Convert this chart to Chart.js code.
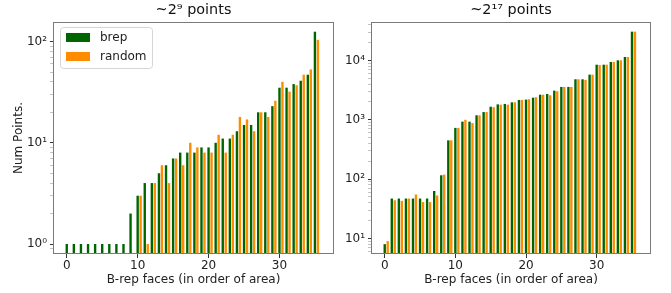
<!DOCTYPE html>
<html>
<head>
<meta charset="utf-8">
<script src="https://cdn.jsdelivr.net/npm/chart.js@4.4.1/dist/chart.umd.min.js"></script>
<style>
  html, body { margin: 0; padding: 0; background: #fff; }
  #wrap { position: relative; width: 671px; height: 293px; }
  #left { position: absolute; left: 0; top: 0; }
  #right { position: absolute; left: 340px; top: 0; }
</style>
</head>
<body>
<div id="wrap">
  <canvas id="left" width="340" height="293"></canvas>
  <canvas id="right" width="331" height="293"></canvas>
</div>
<script>
// faces sorted by area, 0..35
const faces = [0, 1, 2, 3, 4, 5, 6, 7, 8, 9, 10, 11, 12, 13, 14, 15, 16, 17,
  18, 19, 20, 21, 22, 23, 24, 25, 26, 27, 28, 29, 30, 31, 32, 33, 34, 35];

// ~2^9 points
const brepSmall = [1, 1, 1, 1, 1, 1, 1, 1, 1, 2, 3, 4, 4, 5, 6, 7, 8, 8,
  8, 9, 9, 10, 11, 11, 13, 15, 15, 20, 20, 23, 35, 35, 38, 41, 47, 125];
const randomSmall = [null, null, null, null, null, null, null, null, null, null, 3, 1, 4, 6, 4, 7, 6, 10,
  9, 8, 8, 12, 8, 12, 18, 17, 13, 20, 18, 26, 40, 32, 37, 47, 53, 104];

// ~2^17 points
const brepLarge = [8, 47, 47, 47, 47, 47, 47, 63, 116, 450, 730, 930, 930, 1190, 1350, 1660, 1820, 1850,
  1970, 2160, 2190, 2360, 2650, 2720, 3100, 3580, 3580, 4820, 4820, 5770, 8490, 8490, 9440, 10070, 11460, 30600];
const randomLarge = [9, 44, 43, 47, 55, 41, 41, 53, 119, 450, 730, 1000, 880, 1190, 1350, 1630, 1800, 1800,
  1970, 2160, 2220, 2400, 2650, 2590, 3030, 3580, 3580, 4820, 4700, 5770, 8400, 8490, 9440, 10070, 11460, 30600];

const xTicks = [0, 10, 20, 30];
const BAR_W = 0.42;
const GREEN = '#006400';
const ORANGE = '#ff8c00';
const FONT = '"DejaVu Sans", sans-serif';

const sup = { '-': '⁻', '0': '⁰', '1': '¹', '2': '²', '3': '³', '4': '⁴', '5': '⁵', '6': '⁶', '7': '⁷', '8': '⁸', '9': '⁹' };
const toSup = (n) => String(n).split('').map(c => sup[c]).join('');

const logExp = (v) => Math.floor(Math.log10(v) + 1e-9);
const isPow10 = (v) => Math.abs(v / Math.pow(10, logExp(v)) - 1) < 1e-6;
const isNiceLog = (v) => {
  const m = v / Math.pow(10, logExp(v));
  return Math.abs(m - Math.round(m)) < 1e-6;
};

// full box around the axes, like matplotlib spines
const frame = {
  id: 'frame',
  afterDatasetsDraw(chart) {
    const { ctx, chartArea: a } = chart;
    ctx.save();
    ctx.strokeStyle = '#7a7a7a';
    ctx.lineWidth = 1;
    ctx.strokeRect(Math.round(a.left) - 0.5, Math.round(a.top) + 0.5,
      Math.round(a.width) + 1, Math.round(a.height) - 1);
    ctx.restore();
  }
};

// legend in the upper-left corner of the axes, with a frame
const boxLegend = {
  id: 'boxLegend',
  afterDraw(chart) {
    const { ctx, chartArea: a } = chart;
    ctx.save();
    ctx.fillStyle = 'rgba(255,255,255,0.8)';
    ctx.strokeStyle = '#d6d6d6';
    ctx.lineWidth = 1;
    ctx.beginPath();
    ctx.roundRect(a.left + 6.5, a.top + 5.5, 92, 41, 3);
    ctx.fill();
    ctx.stroke();
    ctx.font = '12px ' + FONT;
    ctx.textBaseline = 'middle';
    chart.data.datasets.forEach((ds, i) => {
      const ry = a.top + 11 + i * 19;
      ctx.fillStyle = ds.backgroundColor;
      ctx.fillRect(a.left + 12, ry, 24, 9);
      ctx.fillStyle = '#222';
      ctx.fillText(ds.label, a.left + 46, ry + 5);
    });
    ctx.restore();
  }
};

function makeChart(id, title, brep, random, yMin, yMax, yWidth, padRight, yTitle, extraPlugins) {
  const ctx = document.getElementById(id).getContext('2d');
  return new Chart(ctx, {
    type: 'bar',
    data: {
      datasets: [
        {
          label: 'brep',
          data: faces.map((f, i) => ({ x: f, y: brep[i] })),
          backgroundColor: GREEN,
          grouped: false,
          barPercentage: 1,
        },
        {
          label: 'random',
          data: faces.map((f, i) => ({ x: f + BAR_W, y: random[i] })),
          backgroundColor: ORANGE,
          grouped: false,
          barPercentage: 1,
        },
      ],
    },
    options: {
      responsive: false,
      animation: false,
      events: [],
      layout: { padding: { left: 0, right: padRight, top: 0, bottom: 0 } },
      plugins: {
        legend: { display: false },
        tooltip: { enabled: false },
        title: {
          display: true,
          text: title,
          fullSize: false,
          color: '#111',
          font: { family: FONT, size: 14.4, weight: 'normal' },
          padding: { top: 2, bottom: 2.7 },
        },
      },
      scales: {
        x: {
          type: 'linear',
          min: -1.8,
          max: 37.55,
          offset: false,
          afterFit: (s) => { s.height = 39; },
          afterBuildTicks: (s) => { s.ticks = xTicks.map(v => ({ value: v })); },
          grid: { offset: false, drawOnChartArea: false, drawTicks: true, tickLength: 4, tickColor: '#333', tickWidth: 1 },
          border: { display: false },
          ticks: {
            autoSkip: false,
            includeBounds: false,
            padding: 1,
            color: '#222',
            font: { family: FONT, size: 12 },
          },
          title: {
            display: true,
            text: 'B-rep faces (in order of area)',
            color: '#222',
            font: { family: FONT, size: 12 },
            padding: { top: 0, bottom: 5.8 },
          },
        },
        y: {
          type: 'logarithmic',
          min: yMin,
          max: yMax,
          afterFit: (s) => { s.width = yWidth; },
          afterBuildTicks: (s) => { s.ticks = s.ticks.filter(t => isNiceLog(t.value)); },
          grid: {
            drawOnChartArea: false,
            drawTicks: true,
            tickLength: 4,
            tickColor: (c) => (c.tick && isPow10(c.tick.value) ? '#333' : '#aaa'),
            tickWidth: (c) => (c.tick && isPow10(c.tick.value) ? 1 : 0.7),
          },
          border: { display: false },
          ticks: {
            autoSkip: false,
            padding: 3,
            color: '#222',
            font: { family: FONT, size: 12 },
            callback: (v) => (isPow10(v) ? '10' + toSup(logExp(v)) : ''),
          },
          title: {
            display: !!yTitle,
            text: yTitle,
            color: '#222',
            font: { family: FONT, size: 12 },
            padding: { top: 12, bottom: 0 },
          },
        },
      },
    },
    plugins: [frame].concat(extraPlugins),
  });
}

makeChart('left', '~2⁹ points', brepSmall, randomSmall, 0.797, 156, 54, 7, 'Num Points.', [boxLegend]);
makeChart('right', '~2¹⁷ points', brepLarge, randomLarge, 5.46, 44560, 32, 21, '', []);
</script>
</body>
</html>
